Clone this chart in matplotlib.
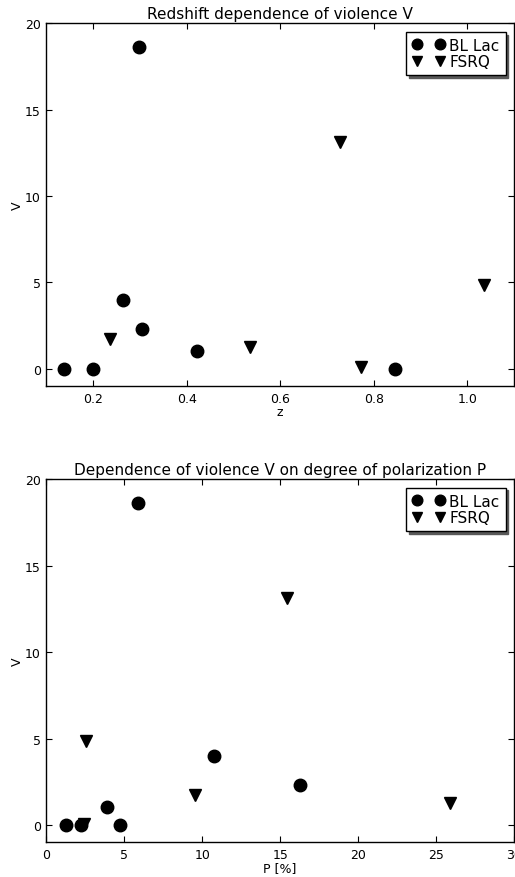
import matplotlib
matplotlib.use("Agg")
import matplotlib.pyplot as plt

# BL Lac objects: redshift z, polarization P [%], violence V
bllac_z = [0.137, 0.200, 0.846, 0.299, 0.263, 0.305, 0.423]
bllac_p = [1.26, 2.22, 4.73, 5.88, 10.75, 16.27, 3.91]
bllac_v = [0.0, 0.0, 0.0, 18.65, 4.0, 2.3, 1.02]

# FSRQ objects
fsrq_z = [0.727, 1.036, 0.236, 0.535, 0.772]
fsrq_p = [15.46, 2.54, 9.54, 25.9, 2.44]
fsrq_v = [13.15, 4.85, 1.72, 1.25, 0.08]

fig = plt.figure(figsize=(5.15, 8.78), dpi=100)
ax1 = fig.add_axes([0.090, 0.5592, 0.908, 0.4131])
ax2 = fig.add_axes([0.090, 0.0395, 0.908, 0.4135])


def style_axes(ax):
    ax.tick_params(direction='in', top=True, right=True, labelsize=9,
                   length=4, width=0.8, pad=4)
    for s in ax.spines.values():
        s.set_linewidth(1.0)
    leg = ax.legend(loc='upper right', numpoints=2,
                    shadow={'color': '0.35', 'alpha': 1.0},
                    fancybox=False, fontsize=11, handlelength=2.1,
                    handletextpad=0.3, borderpad=0.4, labelspacing=0.1,
                    borderaxespad=0.55, markerscale=0.85, framealpha=1.0)
    leg.get_frame().set_edgecolor('black')
    leg.get_frame().set_linewidth(1.0)


ax1.plot(bllac_z, bllac_v, 'o', color='black', markersize=9, label='BL Lac')
ax1.plot(fsrq_z, fsrq_v, 'v', color='black', markersize=9, label='FSRQ')
ax1.set_xlim(0.1, 1.1)
ax1.set_ylim(-1, 20)
ax1.set_xticks([0.2, 0.4, 0.6, 0.8, 1.0])
ax1.set_yticks([0, 5, 10, 15, 20])
ax1.set_title('Redshift dependence of violence V', fontsize=11, pad=4)
ax1.set_xlabel('z', fontsize=9, labelpad=0)
ax1.set_ylabel('V', fontsize=9, labelpad=1)
style_axes(ax1)

ax2.plot(bllac_p, bllac_v, 'o', color='black', markersize=9, label='BL Lac')
ax2.plot(fsrq_p, fsrq_v, 'v', color='black', markersize=9, label='FSRQ')
ax2.set_xlim(0, 30)
ax2.set_ylim(-1, 20)
ax2.set_xticks([0, 5, 10, 15, 20, 25, 30])
ax2.set_yticks([0, 5, 10, 15, 20])
ax2.set_title('Dependence of violence V on degree of polarization P',
              fontsize=11, pad=4)
ax2.set_xlabel('P [%]', fontsize=9, labelpad=0)
ax2.set_ylabel('V', fontsize=9, labelpad=1)
style_axes(ax2)

fig.savefig('out.png', dpi=100)
